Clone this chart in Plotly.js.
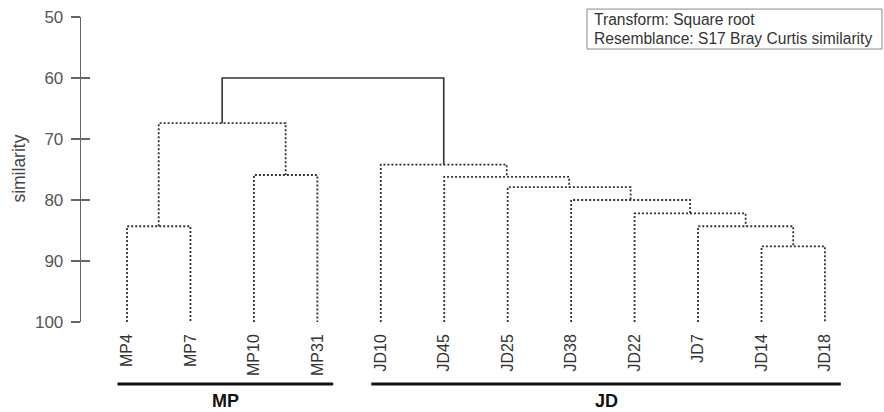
<!DOCTYPE html>
<html>
<head>
<meta charset="utf-8">
<script src="https://cdn.plot.ly/plotly-3.0.1.min.js"></script>
<style>
  html, body { margin: 0; padding: 0; background: #fff; }
  #chart { width: 884px; height: 412px; }
</style>
</head>
<body>
<div id="chart"></div>
<script>
// Leaves in dendrogram order (positions 0..11 along the x axis)
const leaves = ['MP4', 'MP7', 'MP10', 'MP31', 'JD10', 'JD45', 'JD25', 'JD38', 'JD22', 'JD7', 'JD14', 'JD18'];

// Agglomeration steps: node 12 + k joins mergeLeft[k] and mergeRight[k] at mergeSim[k] (% similarity)
const mergeLeft  = [0,  2,  12, 10, 9,  8,  7,  6,  5,  4,  14];
const mergeRight = [1,  3,  13, 11, 15, 16, 17, 18, 19, 20, 21];
const mergeSim   = [84.3, 75.9, 67.4, 87.6, 84.3, 82.2, 80.0, 77.9, 76.2, 74.2, 60.0];

// Sample groups shown under the leaf labels
const groupNames = ['MP', 'JD'];
const groupFirst = [0, 4];
const groupLast  = [3, 11];

// Y axis ticks
const simTicks = [50, 60, 70, 80, 90, 100];

// Key text
const keyLines = ['Transform: Square root', 'Resemblance: S17 Bray Curtis similarity'];

// ---- build dendrogram line segments ----
const nodeX = leaves.map((_, i) => i);
const nodeH = leaves.map(() => 100);
const dotX = [], dotY = [], solidX = [], solidY = [];
mergeSim.forEach((h, k) => {
  const a = mergeLeft[k], b = mergeRight[k];
  const xa = nodeX[a], xb = nodeX[b];
  const seg = [[xa, nodeH[a]], [xa, h], [xb, h], [xb, nodeH[b]]];
  const last = k === mergeSim.length - 1;
  const X = last ? solidX : dotX, Y = last ? solidY : dotY;
  seg.forEach(p => { X.push(p[0]); Y.push(p[1]); });
  X.push(null); Y.push(null);
  nodeX.push((xa + xb) / 2);
  nodeH.push(h);
});

const FONT = 'Arial, "Liberation Sans", sans-serif';
const traces = [
  {
    x: dotX, y: dotY, type: 'scatter', mode: 'lines', hoverinfo: 'skip',
    line: { color: '#333', width: 1.8, dash: '2px,2px' }
  },
  {
    x: solidX, y: solidY, type: 'scatter', mode: 'lines', hoverinfo: 'skip',
    line: { color: '#333', width: 1.6 }
  },
  // carries the inward half of the y ticks
  { x: [], y: [], yaxis: 'y2', type: 'scatter', hoverinfo: 'skip' }
];

const padL = 0.15, padR = 0.25;
const shapes = [];
const annotations = [];
groupNames.forEach((g, i) => {
  const x0 = groupFirst[i] - padL, x1 = groupLast[i] + padR;
  shapes.push({
    type: 'line', xref: 'x', yref: 'paper', x0: x0, x1: x1, y0: -0.2033, y1: -0.2033,
    line: { color: '#111', width: 3 }
  });
  annotations.push({
    xref: 'x', yref: 'paper', x: (x0 + x1) / 2, y: -0.259, text: '<b>' + g + '</b>',
    showarrow: false, xanchor: 'center', yanchor: 'middle',
    font: { family: FONT, size: 18, color: '#111' }
  });
});

// key box
shapes.push({
  type: 'rect', xref: 'paper', yref: 'paper', x0: 0.658, x1: 1.0416, y0: 0.895, y1: 1.026,
  line: { color: '#888', width: 1 }, fillcolor: 'rgba(0,0,0,0)'
});
keyLines.forEach((t, i) => {
  annotations.push({
    xref: 'paper', yref: 'paper', x: 0.6645, y: 0.992 - i * 0.061, text: t,
    showarrow: false, xanchor: 'left', yanchor: 'middle',
    font: { family: FONT, size: 15.6, color: '#333' }
  });
});

// y axis title
annotations.push({
  xref: 'paper', yref: 'paper', x: -0.0806, y: 0.503, text: 'similarity', textangle: -90,
  showarrow: false, xanchor: 'center', yanchor: 'middle',
  font: { family: FONT, size: 17.5, color: '#444' }
});

const layout = {
  width: 884, height: 412,
  margin: { l: 81, r: 34, t: 17, b: 90 },
  paper_bgcolor: '#fff', plot_bgcolor: '#fff',
  showlegend: false,
  font: { family: FONT },
  xaxis: {
    range: [-0.725, 11.395],
    tickmode: 'array', tickvals: leaves.map((_, i) => i), ticktext: leaves,
    tickangle: -90, ticks: '', ticklabelstandoff: 8,
    tickfont: { family: FONT, size: 16, color: '#333' },
    showgrid: false, zeroline: false, showline: false, fixedrange: true
  },
  yaxis: {
    range: [100, 50],
    tickmode: 'array', tickvals: simTicks, ticktext: simTicks.map(String),
    ticks: 'outside', ticklen: 9, tickwidth: 1.3, tickcolor: '#666',
    ticklabelstandoff: 4,
    tickfont: { family: FONT, size: 17, color: '#555' },
    showline: true, linecolor: '#666', linewidth: 1.3,
    showgrid: false, zeroline: false, fixedrange: true
  },
  yaxis2: {
    overlaying: 'y', side: 'left', anchor: 'x',
    range: [100, 50],
    tickmode: 'array', tickvals: simTicks,
    ticks: 'inside', ticklen: 9, tickwidth: 1.3, tickcolor: '#666',
    showticklabels: false, showline: false, showgrid: false, zeroline: false, fixedrange: true
  },
  shapes: shapes,
  annotations: annotations
};

Plotly.newPlot('chart', traces, layout, { displayModeBar: false, staticPlot: true });
</script>
</body>
</html>
